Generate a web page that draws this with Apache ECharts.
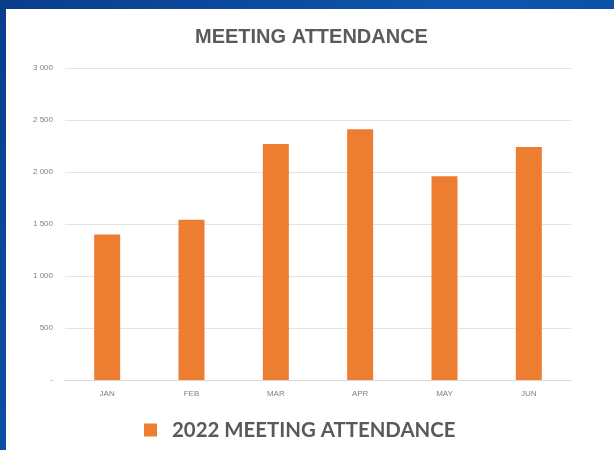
<!DOCTYPE html>
<html>
<head>
<meta charset="utf-8">
<script src="https://cdn.jsdelivr.net/npm/echarts@6/dist/echarts.min.js"></script>
<style>
  html, body { margin: 0; padding: 0; background: #0b4a9c; }
  #chart { width: 614px; height: 450px; }
</style>
</head>
<body>
<div id="chart"></div>
<script>
const months = ['JAN', 'FEB', 'MAR', 'APR', 'MAY', 'JUN'];
const attendance = [1400, 1540, 2270, 2410, 1960, 2240];
const seriesName = '2022 MEETING ATTENDANCE';

function PaintChart() {
    const chart = echarts.init(document.getElementById('chart'));
    const option = {
        backgroundColor: new echarts.graphic.LinearGradient(0, 0, 1, 1, [
            { offset: 0, color: '#0a3d8c' },
            { offset: 0.5, color: '#0d56b0' },
            { offset: 1, color: '#0a4496' }
        ]),
        // white panel of the chart area
        graphic: [
            {
                type: 'rect',
                left: 6,
                top: 9,
                z: -1,
                shape: { width: 608, height: 441 },
                style: { fill: '#ffffff' }
            }
        ],
        title: {
            text: 'MEETING ATTENDANCE',
            left: 190,
            top: 22,
            textStyle: {
                fontFamily: 'Liberation Sans',
                fontSize: 20,
                fontWeight: 'bold',
                color: '#5a5a5a'
            }
        },
        legend: {
            data: [seriesName],
            left: 144,
            top: 420,
            padding: 0,
            icon: 'rect',
            itemWidth: 13,
            itemHeight: 13,
            textStyle: {
                fontFamily: 'Lato',
                fontSize: 20.4,
                fontWeight: 'bold',
                color: '#595959',
                padding: [0, 0, 0, 10]
            }
        },
        grid: {
            left: 65,
            right: 43,
            top: 68,
            bottom: 70,
            containLabel: false
        },
        xAxis: {
            type: 'category',
            data: months,
            axisLine: { lineStyle: { color: '#d9d9d9' } },
            axisTick: { show: false },
            axisLabel: {
                fontSize: 8,
                color: '#808080',
                margin: 10
            }
        },
        yAxis: {
            type: 'value',
            min: 0,
            max: 3000,
            interval: 500,
            axisLine: { show: false },
            axisTick: { show: false },
            axisLabel: {
                fontSize: 8,
                color: '#808080',
                margin: 12,
                formatter: function (v) {
                    if (v === 0) return '-';
                    return String(v).replace(/\B(?=(\d{3})+(?!\d))/g, ' ');
                }
            },
            splitLine: { lineStyle: { color: '#e3e3e3' } }
        },
        series: [
            {
                type: 'bar',
                name: seriesName,
                data: attendance,
                barWidth: 26,
                itemStyle: { color: '#ED7D31' }
            }
        ]
    };
    chart.setOption(option);
}
PaintChart();
</script>
</body>
</html>
